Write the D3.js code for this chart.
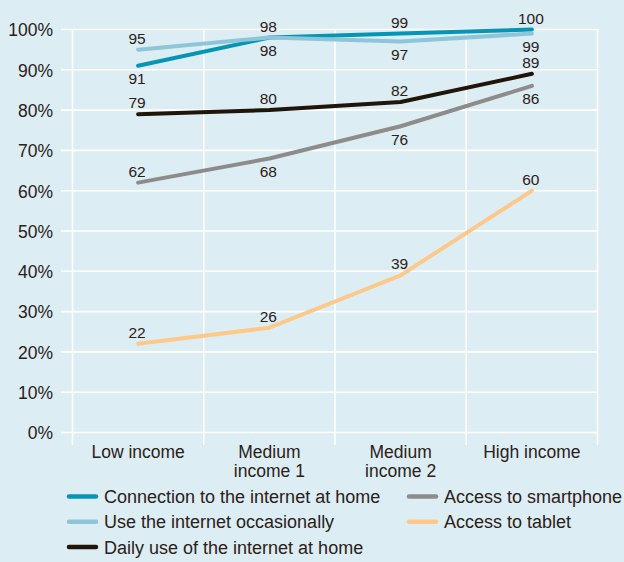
<!DOCTYPE html>
<html><head><meta charset="utf-8">
<script src="https://cdn.jsdelivr.net/npm/d3@7"></script>
<style>
html,body{margin:0;padding:0;background:#ddedf4;}
svg{display:block;font-family:"Liberation Sans",Arial,Helvetica,sans-serif;}
</style></head>
<body>
<svg id="chart" width="624" height="562"></svg>
<script>
const categories = [["Low income"], ["Medium", "income 1"], ["Medium", "income 2"], ["High income"]];
const seriesNames = [
  "Connection to the internet at home",
  "Use the internet occasionally",
  "Daily use of the internet at home",
  "Access to smartphone",
  "Access to tablet"
];
const connection = [91, 98, 99, 100];
const occasional = [95, 98, 97, 99];
const daily = [79, 80, 82, 89];
const smartphone = [62, 68, 76, 86];
const tablet = [22, 26, 39, 60];
// label placement: 1 = above the point, -1 = below
const connectionPos = [-1, 1, 1, 1];
const occasionalPos = [1, -1, -1, -1];
const dailyPos = [1, 1, 1, 1];
const smartphonePos = [1, -1, -1, -1];
const tabletPos = [1, 1, 1, 1];
const yTicks = [0, 10, 20, 30, 40, 50, 60, 70, 80, 90, 100];
const colors = ["#0795b5", "#8dc5d9", "#1f1509", "#8e8c8b", "#fdc98b"];

const series = [
  {name: seriesNames[0], values: connection, pos: connectionPos, color: colors[0]},
  {name: seriesNames[1], values: occasional, pos: occasionalPos, color: colors[1]},
  {name: seriesNames[3], values: smartphone, pos: smartphonePos, color: colors[3]},
  {name: seriesNames[4], values: tablet, pos: tabletPos, color: colors[4]},
  {name: seriesNames[2], values: daily, pos: dailyPos, color: colors[2]}
];

const svg = d3.select("#chart");
const textColor = "#2a2118";
const x = d3.scaleBand().domain(d3.range(categories.length)).range([72.5, 597.5]).padding(0);
const y = d3.scaleLinear().domain([0, 100]).range([432.5, 29.5]);

svg.append("rect").attr("width", 624).attr("height", 562).attr("fill", "#ddedf4");

const grid = svg.append("g");
grid.selectAll("line.h").data(yTicks).join("line")
  .attr("x1", 61).attr("x2", 598.5)
  .attr("y1", d => y(d)).attr("y2", d => y(d))
  .attr("stroke", "#ffffff").attr("stroke-width", 1.6);
const vb = d3.range(categories.length + 1).map(i => i < categories.length ? x(i) : x(categories.length - 1) + x.bandwidth());
grid.selectAll("line.v").data(vb).join("line")
  .attr("x1", d => d).attr("x2", d => d)
  .attr("y1", y(100)).attr("y2", 445)
  .attr("stroke", "#ffffff").attr("stroke-width", 1.6);

// y axis labels
const yAxis = d3.axisLeft(y).tickValues(yTicks).tickFormat(d => d + "%").tickSize(0).tickPadding(0);
const ya = svg.append("g").attr("transform", "translate(53,0)").call(yAxis);
ya.select(".domain").remove();
ya.selectAll("text").attr("fill", textColor).attr("font-size", "17.5px")
  .attr("font-family", "'Liberation Sans',Arial,sans-serif").attr("dy", "0.36em");

// x labels
const xl = svg.append("g");
categories.forEach((lines, i) => {
  const t = xl.append("text").attr("text-anchor", "middle").attr("fill", textColor).attr("font-size", "17.5px");
  lines.forEach((ln, j) => {
    t.append("tspan").attr("x", x(i) + x.bandwidth() / 2).attr("y", 458 + j * 19).text(ln);
  });
});

const cx = i => x(i) + x.bandwidth() / 2;
const line = d3.line().x((d, i) => cx(i)).y(d => y(d));

svg.append("g").selectAll("path").data(series).join("path")
  .attr("d", d => line(d.values))
  .attr("fill", "none").attr("stroke", d => d.color).attr("stroke-width", 4)
  .attr("stroke-linecap", "round").attr("stroke-linejoin", "round");

// value labels
const lbl = svg.append("g");
series.forEach(s => {
  s.values.forEach((v, i) => {
    lbl.append("text").attr("x", cx(i) - 1).attr("y", y(v) + (s.pos[i] > 0 ? -6 : 18.5))
      .attr("text-anchor", "middle").attr("fill", textColor).attr("font-size", "15.5px").text(v);
  });
});

// legend
const legendItems = [
  {name: seriesNames[0], color: colors[0], col: 0, row: 0},
  {name: seriesNames[1], color: colors[1], col: 0, row: 1},
  {name: seriesNames[2], color: colors[2], col: 0, row: 2},
  {name: seriesNames[3], color: colors[3], col: 1, row: 0},
  {name: seriesNames[4], color: colors[4], col: 1, row: 1}
];
const colX = [68, 408];
const lg = svg.append("g");
legendItems.forEach(d => {
  const yy = 496.5 + d.row * 25.3;
  lg.append("line").attr("x1", colX[d.col] + 1).attr("x2", colX[d.col] + 28)
    .attr("y1", yy).attr("y2", yy).attr("stroke", d.color).attr("stroke-width", 4.5).attr("stroke-linecap", "round");
  lg.append("text").attr("x", colX[d.col] + 36).attr("y", yy + 6.5).attr("fill", textColor)
    .attr("font-size", "18px").text(d.name);
});
</script>
</body></html>
